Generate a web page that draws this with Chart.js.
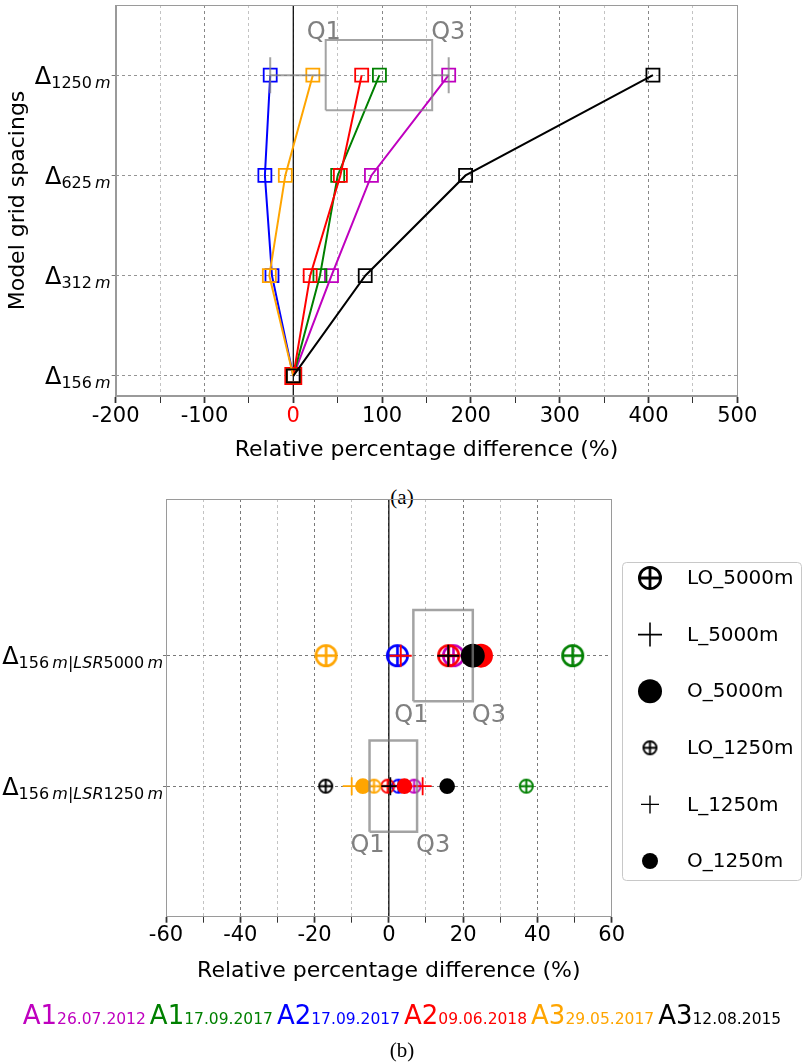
<!DOCTYPE html>
<html>
<head>
<meta charset="utf-8">
<script src="https://cdn.jsdelivr.net/npm/chart.js@4.4.1/dist/chart.umd.min.js"></script>
<style>
html,body{margin:0;padding:0;background:#fff;}
body{width:804px;height:1064px;position:relative;overflow:hidden;font-family:'DejaVu Sans',sans-serif;}
#c1{position:absolute;left:0;top:0;}
#c2{position:absolute;left:0;top:470px;}
.cap{position:absolute;left:0;width:804px;text-align:center;font-family:'Liberation Serif','Times New Roman',serif;font-size:21px;line-height:24px;color:#000;}
#series{position:absolute;left:0;top:995px;width:804px;text-align:center;white-space:nowrap;font-family:'DejaVu Sans',sans-serif;line-height:40px;}
#series span.g{margin:0 2px;}
#series span.n{font-size:26px;}
#series span.d{font-size:15.5px;}
</style>
</head>
<body>
<canvas id="c1" width="804" height="470"></canvas>
<div class="cap" style="top:485px;">(a)</div>
<canvas id="c2" width="804" height="530"></canvas>
<div id="series"></div>
<div class="cap" style="top:1038px;">(b)</div>
<script>
// ---------------- DATA ----------------
// Top panel: model grid spacings (subscripts of Δ), y index 0..3
const GRID_SPACINGS = ['156', '312', '625', '1250'];
// Series (order: A1 26.07.2012, A1 17.09.2017, A2 17.09.2017, A2 09.06.2018, A3 29.05.2017, A3 12.08.2015)
const SERIES_NAMES = ['A1', 'A1', 'A2', 'A2', 'A3', 'A3'];
const SERIES_DATES = ['26.07.2012', '17.09.2017', '17.09.2017', '09.06.2018', '29.05.2017', '12.08.2015'];
const SERIES_COLORS = ['#bf00bf', '#008000', '#0000ff', '#ff0000', '#ffa500', '#000000'];
// Relative percentage difference at Δ156, Δ312, Δ625, Δ1250
const A1_20120726 = [0, 43, 88, 175];
const A1_20170917 = [0, 30, 50, 97];
const A2_20170917 = [0, -24, -32, -26];
const A2_20180609 = [0, 19, 53, 77];
const A3_20170529 = [0, -27, -9, 22];
const A3_20150812 = [0, 81, 194, 405];
// Box at Δ1250: [min whisker, Q1, Q3, max whisker]
const TOP_BOX = [-26, 36.5, 156.4, 175];
const TOP_X_TICKS = [-200, -100, 0, 100, 200, 300, 400, 500];

// Bottom panel rows: 0 = Δ156m|LSR1250m, 1 = Δ156m|LSR5000m
const LSR_ROWS = ['1250', '5000'];
const LEGEND_LABELS = ['LO_5000m', 'L_5000m', 'O_5000m', 'LO_1250m', 'L_1250m', 'O_1250m'];
// values per series (same order as SERIES_*), null = not visible
const LO_5000 = [17.4, 49.5, 2.3, 16.1, -16.9, null];
const L_5000  = [null, null, null, 3.2, null, 16.0];
const O_5000  = [null, null, null, 24.8, null, 22.6];
const LO_1250 = [6.8, 37.0, 2.6, -0.3, -4.0, -17.0];
const L_1250  = [null, null, null, 9.1, -10.0, 0.4];
const O_1250  = [null, null, null, 4.2, -7.0, 15.7];
// Boxes: [Q1, Q3]
const BOX_5000 = [6.6, 22.6];
const BOX_1250 = [-5.2, 7.6];
const BOTTOM_X_TICKS = [-60, -40, -20, 0, 20, 40, 60];

// ---------------- HELPERS ----------------
const FONT = '"DejaVu Sans", sans-serif';
const TOP_SERIES = [A1_20120726, A1_20170917, A2_20170917, A2_20180609, A3_20170529, A3_20150812];
const DRAW_ORDER = [6, 5, 4, 3, 2, 1];

function oplus(color, d, lw) {
  const s = Math.ceil(d + 2);
  const c = document.createElement('canvas');
  c.width = s; c.height = s;
  const g = c.getContext('2d');
  const m = s / 2, r = d / 2 - lw / 2;
  g.strokeStyle = color; g.lineWidth = lw;
  g.beginPath(); g.arc(m, m, r, 0, Math.PI * 2); g.stroke();
  g.beginPath();
  g.moveTo(m - r, m); g.lineTo(m + r, m);
  g.moveTo(m, m - r); g.lineTo(m, m + r);
  g.stroke();
  return c;
}

function drawDelta(ctx, xRight, y, parts) {
  ctx.save();
  ctx.fillStyle = '#000';
  ctx.textAlign = 'left';
  ctx.textBaseline = 'alphabetic';
  const big = '24px ' + FONT;
  const sub = it => (it ? 'italic ' : '') + '16px ' + FONT;
  ctx.font = big;
  const wD = ctx.measureText('Δ').width;
  let w = wD;
  parts.forEach(([t, it]) => { ctx.font = sub(it); w += ctx.measureText(t).width; });
  let x = xRight - w;
  ctx.font = big; ctx.fillText('Δ', x, y + 8.5); x += wD;
  parts.forEach(([t, it]) => {
    ctx.font = sub(it);
    ctx.fillText(t, x, y + 12.5);
    x += ctx.measureText(t).width;
  });
  ctx.restore();
}

function frame(ctx, a) {
  ctx.save();
  ctx.strokeStyle = '#9a9a9a';
  ctx.lineWidth = 1;
  ctx.strokeRect(Math.round(a.left) + 0.5, Math.round(a.top) + 0.5, Math.round(a.width) - 1, Math.round(a.height) - 1);
  ctx.restore();
}

function zeroLine(chart) {
  const {ctx, chartArea: a, scales: {x}} = chart;
  const px = x.getPixelForValue(0);
  ctx.save();
  ctx.strokeStyle = '#111';
  ctx.lineWidth = 1.3;
  ctx.beginPath(); ctx.moveTo(px, a.top); ctx.lineTo(px, a.bottom); ctx.stroke();
  ctx.restore();
}

function qText(ctx, chart, q1, q3, yBase) {
  const x = chart.scales.x;
  ctx.save();
  ctx.fillStyle = '#808080';
  ctx.font = '24px ' + FONT;
  ctx.textBaseline = 'alphabetic';
  ctx.textAlign = 'center';
  ctx.fillText('Q1', x.getPixelForValue(q1) - 2, yBase);
  ctx.textAlign = 'left';
  ctx.fillText('Q3', x.getPixelForValue(q3) - 1, yBase);
  ctx.restore();
}

function rectPts(x0, x1, y0, y1) {
  return [{x: x0, y: y0}, {x: x1, y: y0}, {x: x1, y: y1}, {x: x0, y: y1}, {x: x0, y: y0}];
}

Chart.defaults.font.family = FONT;
Chart.defaults.color = '#000';

// ---------------- TOP CHART ----------------
const BOX_GRAY = 'rgba(128,128,128,0.72)';
const topDatasets = TOP_SERIES.map((vals, s) => ({
  data: vals.map((v, i) => ({x: v, y: i})),
  showLine: true,
  borderColor: SERIES_COLORS[s],
  borderWidth: 2,
  pointStyle: 'rect',
  pointRadius: s === 3 ? (c => c.dataIndex === 0 ? 10.8 : 9.2) : 9.2,
  pointBorderWidth: s === 3 ? (c => c.dataIndex === 0 ? 2.6 : 1.8) : 1.8,
  pointBorderColor: SERIES_COLORS[s],
  pointBackgroundColor: 'rgba(0,0,0,0)',
  order: DRAW_ORDER[s]
}));
const topRow = 3;
const boxLine = (pts) => ({data: pts, showLine: true, borderColor: BOX_GRAY, borderWidth: 2, pointRadius: 0, order: 0});
topDatasets.push(
  boxLine(rectPts(TOP_BOX[1], TOP_BOX[2], topRow - 0.35, topRow + 0.35)),
  boxLine([{x: TOP_BOX[0], y: topRow}, {x: TOP_BOX[1], y: topRow}]),
  boxLine([{x: TOP_BOX[2], y: topRow}, {x: TOP_BOX[3], y: topRow}]),
  boxLine([{x: TOP_BOX[0], y: topRow - 0.18}, {x: TOP_BOX[0], y: topRow + 0.18}]),
  boxLine([{x: TOP_BOX[3], y: topRow - 0.18}, {x: TOP_BOX[3], y: topRow + 0.18}])
);

const topPlugin = {
  id: 'topDeco',
  beforeDatasetsDraw(chart) { zeroLine(chart); },
  afterDraw(chart) {
    const {ctx, chartArea: a, scales: {y}} = chart;
    frame(ctx, a);
    GRID_SPACINGS.forEach((g, i) => {
      drawDelta(ctx, a.left - 5, y.getPixelForValue(i), [[g, false], ['\u2009', false], ['m', true]]);
    });
    qText(ctx, chart, TOP_BOX[1], TOP_BOX[2], y.getPixelForValue(topRow + 0.35) - 1);
  }
};

new Chart(document.getElementById('c1'), {
  type: 'scatter',
  data: {datasets: topDatasets},
  options: {
    responsive: false,
    animation: false,
    devicePixelRatio: 1,
    events: [],
    layout: {autoPadding: false, padding: {left: 0, right: 66.7, top: 5, bottom: 0}},
    plugins: {legend: {display: false}, tooltip: {enabled: false}},
    scales: {
      x: {
        type: 'linear', min: -200, max: 500,
        afterFit: s => { s.height = 74; },
        afterBuildTicks: s => {
          const t = [];
          for (let v = -200; v <= 500; v += 50) t.push({value: v});
          s.ticks = t;
        },
        ticks: {
          autoSkip: false, maxRotation: 0, padding: 1,
          font: {size: 21},
          color: c => (c.tick && c.tick.value === 0) ? '#ff0000' : '#000',
          callback: v => TOP_X_TICKS.includes(v) ? String(v) : ''
        },
        grid: {
          color: c => (c.tick && c.tick.value % 100 === 0) ? '#7a7a7a' : '#bdbdbd',
          lineWidth: 0.9,
          tickLength: 7,
          tickColor: '#333',
          tickWidth: c => (c.tick && c.tick.value % 100 === 0) ? 1.8 : 1,
          tickBorderDash: []
        },
        border: {display: true, color: '#9a9a9a', dash: [3, 3]},
        title: {display: true, text: 'Relative percentage difference (%)', font: {size: 22}, padding: {top: 2, bottom: 6.5}}
      },
      y: {
        type: 'linear', min: -0.2, max: 3.7,
        afterFit: s => { s.width = 115.7; },
        afterBuildTicks: s => { s.ticks = GRID_SPACINGS.map((g, i) => ({value: i})); },
        ticks: {display: false},
        grid: {color: '#8a8a8a', lineWidth: 0.9, tickLength: 4, tickColor: '#666', tickBorderDash: []},
        border: {display: true, color: '#9a9a9a', dash: [3, 3]},
        title: {display: true, text: 'Model grid spacings', font: {size: 22}, padding: {top: 5, bottom: 0}}
      }
    }
  },
  plugins: [topPlugin]
});

// ---------------- BOTTOM CHART ----------------
function markerSet(vals, row, extra, order) {
  const idx = vals.map((v, i) => v === null ? -1 : i).filter(i => i >= 0);
  const colors = idx.map(i => SERIES_COLORS[i]);
  return Object.assign({
    data: idx.map(i => ({x: vals[i], y: row})),
    showLine: false,
    pointBorderColor: colors,
    pointBackgroundColor: colors,
    order: order
  }, extra(colors));
}
const LO_BIG = (colors) => ({pointStyle: colors.map(c => oplus(c, 23, 2.6)), pointRadius: 11.5});
const LO_SMALL = (colors) => ({pointStyle: colors.map(c => oplus(c, 15, 2)), pointRadius: 7.5});
const L_BIG = () => ({pointStyle: 'cross', pointRadius: 11, pointBorderWidth: 2});
const L_SMALL = () => ({pointStyle: 'cross', pointRadius: 9, pointBorderWidth: 1.8});
const O_BIG = () => ({pointStyle: 'circle', pointRadius: 12, pointBorderWidth: 0});
const O_SMALL = () => ({pointStyle: 'circle', pointRadius: 7.8, pointBorderWidth: 0});

const botDatasets = [
  markerSet(LO_5000, 1, LO_BIG, 4),
  markerSet(L_5000, 1, L_BIG, 3),
  markerSet(O_5000, 1, O_BIG, 2),
  markerSet(LO_1250, 0, LO_SMALL, 4),
  markerSet(L_1250, 0, L_SMALL, 3),
  markerSet(O_1250, 0, O_SMALL, 2),
  {data: rectPts(BOX_5000[0], BOX_5000[1], 1 - 0.35, 1 + 0.35), showLine: true, borderColor: BOX_GRAY, borderWidth: 2.5, pointRadius: 0, order: 0},
  {data: rectPts(BOX_1250[0], BOX_1250[1], -0.35, 0.35), showLine: true, borderColor: BOX_GRAY, borderWidth: 2.5, pointRadius: 0, order: 0}
];

function legendMarker(ctx, k, x, y) {
  ctx.save();
  ctx.strokeStyle = '#000'; ctx.fillStyle = '#000';
  if (k === 0 || k === 3) {
    const c = k === 0 ? oplus('#000', 24, 2.8) : oplus('#000', 15, 2);
    ctx.drawImage(c, x - c.width / 2, y - c.height / 2);
  } else if (k === 1 || k === 4) {
    const r = k === 1 ? 12 : 9;
    ctx.lineWidth = k === 1 ? 1.6 : 1.4;
    ctx.beginPath(); ctx.moveTo(x - r, y); ctx.lineTo(x + r, y); ctx.moveTo(x, y - r); ctx.lineTo(x, y + r); ctx.stroke();
  } else {
    const r = k === 2 ? 12 : 8;
    ctx.beginPath(); ctx.arc(x, y, r, 0, Math.PI * 2); ctx.fill();
  }
  ctx.restore();
}

const botPlugin = {
  id: 'botDeco',
  beforeDatasetsDraw(chart) { zeroLine(chart); },
  afterDraw(chart) {
    const {ctx, chartArea: a, scales: {y}} = chart;
    frame(ctx, a);
    LSR_ROWS.forEach((g, i) => {
      drawDelta(ctx, a.left - 3, y.getPixelForValue(i),
        [['156', false], ['\u2009', false], ['m', true], ['|', false], ['LSR', true], [g, false], ['\u2009', false], ['m', true]]);
    });
    qText(ctx, chart, BOX_5000[0], BOX_5000[1], y.getPixelForValue(1 - 0.35) + 20.5);
    qText(ctx, chart, BOX_1250[0], BOX_1250[1], y.getPixelForValue(-0.35) + 20.5);
    // legend
    ctx.save();
    const L = 622.5, T = 92.5, W = 179, H = 318, R = 4;
    ctx.beginPath();
    ctx.moveTo(L + R, T); ctx.lineTo(L + W - R, T); ctx.arcTo(L + W, T, L + W, T + R, R);
    ctx.lineTo(L + W, T + H - R); ctx.arcTo(L + W, T + H, L + W - R, T + H, R);
    ctx.lineTo(L + R, T + H); ctx.arcTo(L, T + H, L, T + H - R, R);
    ctx.lineTo(L, T + R); ctx.arcTo(L, T, L + R, T, R);
    ctx.closePath();
    ctx.fillStyle = 'rgba(255,255,255,0.85)'; ctx.fill();
    ctx.strokeStyle = '#c8c8c8'; ctx.lineWidth = 1; ctx.stroke();
    ctx.restore();
    LEGEND_LABELS.forEach((lab, k) => {
      const yy = 108 + k * 56.6;
      legendMarker(ctx, k, 650, yy);
      ctx.save();
      ctx.fillStyle = '#000'; ctx.font = '20px ' + FONT;
      ctx.textAlign = 'left'; ctx.textBaseline = 'middle';
      ctx.fillText(lab, 687, yy + 1);
      ctx.restore();
    });
  }
};

new Chart(document.getElementById('c2'), {
  type: 'scatter',
  data: {datasets: botDatasets},
  options: {
    responsive: false,
    animation: false,
    devicePixelRatio: 1,
    events: [],
    layout: {autoPadding: false, padding: {left: 0, right: 192.3, top: 29, bottom: 0}},
    plugins: {legend: {display: false}, tooltip: {enabled: false}},
    scales: {
      x: {
        type: 'linear', min: -60, max: 60,
        afterFit: s => { s.height = 83.3; },
        afterBuildTicks: s => {
          const t = [];
          for (let v = -60; v <= 60; v += 10) t.push({value: v});
          s.ticks = t;
        },
        ticks: {
          autoSkip: false, maxRotation: 0, padding: 0,
          font: {size: 21},
          color: '#000',
          callback: v => BOTTOM_X_TICKS.includes(v) ? String(v) : ''
        },
        grid: {
          color: c => (c.tick && c.tick.value % 20 === 0) ? '#6a6a6a' : '#bdbdbd',
          lineWidth: 0.9,
          tickLength: 6,
          tickColor: '#333',
          tickWidth: c => (c.tick && c.tick.value % 20 === 0) ? 1.8 : 1,
          tickBorderDash: []
        },
        border: {display: true, color: '#9a9a9a', dash: [3, 3]},
        title: {display: true, text: 'Relative percentage difference (%)', font: {size: 22}, padding: {top: 2, bottom: 15.3}}
      },
      y: {
        type: 'linear', min: -1, max: 2.2,
        afterFit: s => { s.width = 166; },
        afterBuildTicks: s => { s.ticks = LSR_ROWS.map((g, i) => ({value: i})); },
        ticks: {display: false},
        grid: {color: '#6a6a6a', lineWidth: 0.9, tickLength: 3, tickColor: '#666', tickBorderDash: []},
        border: {display: true, color: '#9a9a9a', dash: [3, 3]}
      }
    }
  },
  plugins: [botPlugin]
});

// ---------------- SERIES KEY (HTML) ----------------
const seriesDiv = document.getElementById('series');
SERIES_NAMES.forEach((n, i) => {
  const g = document.createElement('span');
  g.className = 'g';
  g.style.color = SERIES_COLORS[i];
  const a = document.createElement('span'); a.className = 'n'; a.textContent = n;
  const d = document.createElement('span'); d.className = 'd'; d.textContent = SERIES_DATES[i];
  g.appendChild(a); g.appendChild(d);
  seriesDiv.appendChild(g);
});
</script>
</body>
</html>
